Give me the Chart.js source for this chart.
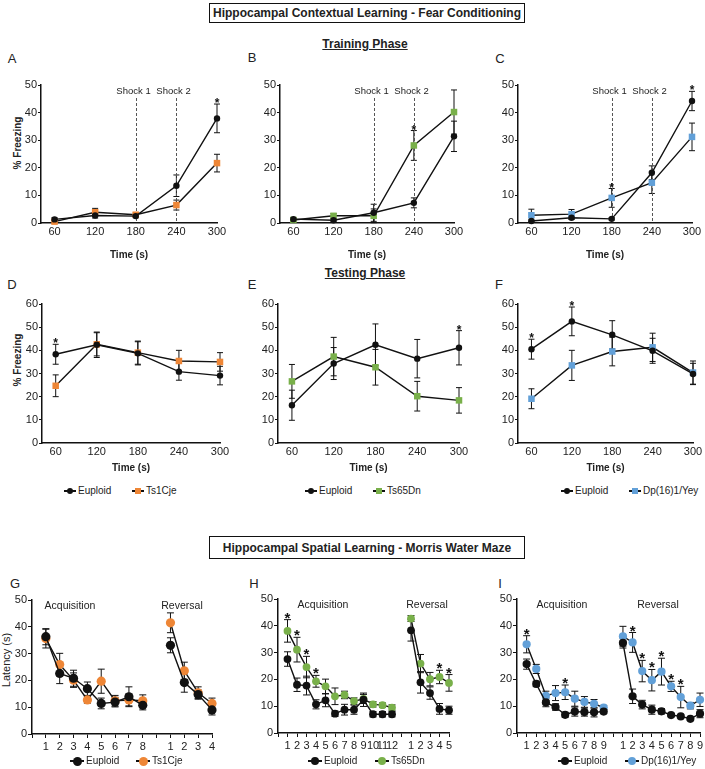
<!DOCTYPE html>
<html>
<head>
<meta charset="utf-8">
<title>Hippocampal learning</title>
<script src="https://cdn.jsdelivr.net/npm/chart.js@4.4.1/dist/chart.umd.min.js"></script>
<style>
  html, body { margin:0; padding:0; background:#fff; overflow:hidden; }
  body { position:relative; width:705px; height:769px; font-family:"Liberation Sans", Arial, sans-serif; color:#222; }
  canvas { position:absolute; }
  .t { position:absolute; transform:translate(-50%,-50%); white-space:nowrap; line-height:1; }
  .box { position:absolute; box-sizing:border-box; border:1.5px solid #111; font-weight:bold; font-size:12px; display:flex; align-items:center; justify-content:center; }
  .head { font-weight:bold; font-size:12px; text-decoration:underline; }
  .letter { font-size:13px; }
  .ytitle { transform:translate(-50%,-50%) rotate(-90deg); }
  .leg { position:absolute; display:flex; align-items:center; font-size:10px; transform:translateY(-50%); white-space:nowrap; line-height:1; }
</style>
</head>
<body>
<script>
// ---- data: fear conditioning ----
const timePoints = [60, 120, 180, 240, 300];
const shockTimes = [180, 240];
const shockNames = ['Shock 1', 'Shock 2'];

// training phase (% freezing)
const trainEuploidA = [1.3, 2.7, 2.5, 13.5, 37.9];
const trainEuploidAErr = [0.6, 0.9, 0.6, 3.9, 5.2];
const trainTs1Cje = [0.5, 3.9, 3.0, 6.5, 21.7];
const trainTs1CjeErr = [0.4, 1.4, 0.6, 1.8, 3.2];

const trainEuploidB = [1.4, 1.0, 3.7, 7.3, 31.4];
const trainEuploidBErr = [0.5, 0.6, 3.1, 1.8, 5.5];
const trainTs65Dn = [1.1, 2.6, 2.6, 28.1, 40.2];
const trainTs65DnErr = [0.5, 0.8, 2.5, 5.4, 8.0];

const trainEuploidC = [0.7, 1.9, 1.5, 18.2, 44.2];
const trainEuploidCErr = [0.4, 0.6, 0.4, 2.5, 3.5];
const trainDp16 = [2.8, 3.2, 9.1, 14.6, 31.2];
const trainDp16Err = [2.2, 1.7, 3.4, 3.9, 5.0];

// testing phase (% freezing)
const testEuploidD = [38.3, 42.4, 38.7, 30.8, 29.1];
const testEuploidDErr = [4.3, 5.5, 5.0, 3.7, 4.0];
const testTs1Cje = [24.7, 42.6, 39.0, 35.4, 35.0];
const testTs1CjeErr = [4.7, 5.0, 5.0, 4.6, 4.0];

const testEuploidE = [16.3, 34.3, 42.4, 36.4, 41.1];
const testEuploidEErr = [6.5, 6.9, 9.0, 8.3, 7.4];
const testTs65Dn = [26.6, 37.3, 32.7, 20.2, 18.4];
const testTs65DnErr = [7.3, 8.3, 7.7, 6.4, 5.5];

const testEuploidF = [40.5, 52.5, 46.7, 39.8, 29.8];
const testEuploidFErr = [4.3, 6.2, 6.1, 5.4, 4.6];
const testDp16 = [19.1, 33.5, 39.5, 41.3, 30.4];
const testDp16Err = [4.3, 6.5, 6.2, 6.1, 5.0];

// significant time points (*)
const sigA = [300], sigB = [240], sigC = [180, 300];
const sigD = [60], sigE = [300], sigF = [60, 120];

// ---- data: Morris water maze, latency (s) ----
const daysG_acq = ['1', '2', '3', '4', '5', '6', '7', '8'];
const daysG_rev = ['1', '2', '3', '4'];
const mwmEuploidG_acq = [36.3, 22.6, 20.8, 16.9, 11.4, 11.9, 13.9, 10.7];
const mwmEuploidG_acqErr = [3.0, 3.8, 3.0, 2.5, 2.0, 1.8, 3.7, 1.7];
const mwmEuploidG_rev = [33.1, 19.2, 14.7, 9.0];
const mwmEuploidG_revErr = [2.8, 3.6, 1.7, 1.9];
const mwmTs1Cje_acq = [35.6, 25.9, 20.1, 12.7, 19.7, 12.4, 12.7, 12.4];
const mwmTs1Cje_acqErr = [3.5, 4.2, 2.7, 1.2, 4.5, 2.0, 2.2, 2.2];
const mwmTs1Cje_rev = [41.5, 23.6, 15.4, 11.4];
const mwmTs1Cje_revErr = [3.7, 3.2, 2.2, 2.0];

const daysH_acq = ['1', '2', '3', '4', '5', '6', '7', '8', '9', '10', '11', '12'];
const daysH_rev = ['1', '2', '3', '4', '5'];
const mwmEuploidH_acq = [27.6, 18.0, 17.7, 10.7, 12.2, 7.2, 8.7, 8.7, 12.4, 7.0, 7.0, 7.0];
const mwmEuploidH_acqErr = [2.7, 2.5, 3.5, 1.7, 2.4, 1.0, 2.0, 1.7, 2.5, 1.0, 1.0, 1.0];
const mwmEuploidH_rev = [38.3, 18.9, 14.9, 9.0, 8.5];
const mwmEuploidH_revErr = [4.0, 4.0, 2.3, 2.0, 1.5];
const mwmTs65Dn_acq = [38.1, 31.1, 24.6, 19.3, 17.4, 13.7, 14.2, 11.9, 12.7, 10.7, 10.4, 9.5];
const mwmTs65Dn_acqErr = [4.2, 4.6, 4.0, 2.2, 2.7, 3.1, 1.4, 1.2, 1.7, 1.0, 0.8, 1.0];
const mwmTs65Dn_rev = [42.7, 25.9, 20.1, 20.9, 18.7];
const mwmTs65Dn_revErr = [1.1, 3.4, 2.5, 2.5, 3.1];

const daysI_acq = ['1', '2', '3', '4', '5', '6', '7', '8', '9'];
const daysI_rev = ['1', '2', '3', '4', '5', '6', '7', '8', '9'];
const mwmEuploidI_acq = [25.7, 18.3, 11.4, 9.7, 6.8, 8.0, 7.8, 7.7, 8.0];
const mwmEuploidI_acqErr = [1.9, 1.0, 1.6, 1.2, 0.9, 1.7, 1.5, 1.7, 0.8];
const mwmEuploidI_rev = [33.6, 13.7, 10.6, 8.7, 8.1, 6.7, 6.2, 5.3, 7.2];
const mwmEuploidI_revErr = [1.9, 2.7, 1.6, 1.7, 1.0, 0.6, 0.5, 0.5, 1.5];
const mwmDp16_acq = [33.1, 23.9, 13.9, 14.9, 15.2, 12.8, 11.6, 10.9, 9.5];
const mwmDp16_acqErr = [3.2, 1.7, 1.7, 2.8, 2.7, 2.8, 2.0, 1.6, 0.8];
const mwmDp16_rev = [36.1, 33.8, 23.1, 19.7, 22.9, 17.4, 13.4, 10.2, 12.4];
const mwmDp16_revErr = [3.7, 3.7, 4.0, 4.0, 5.0, 1.9, 4.0, 1.2, 2.5];

// significant days (*)
const sigG = { acq: [], rev: [] };
const sigH = { acq: [1, 2, 3, 4], rev: [4, 5] };
const sigI = { acq: [1, 5], rev: [2, 3, 4, 5, 6, 7] };

// ---- styles ----
const FONT = '"Liberation Sans", Arial, sans-serif';
const BLACK = '#111111';
const ORANGE = '#EE8636';
const GREEN = '#79B04A';
const BLUE = '#62A0D8';

Chart.defaults.font.family = FONT;
Chart.defaults.color = '#222';

// error bars drawn from dataset.errors through the y scale
const errorBars = {
  id: 'errorBars',
  beforeDatasetsDraw(chart, args, opts) {
    const ctx = chart.ctx, y = chart.scales.y;
    const half = opts.cap || 3;
    ctx.save();
    ctx.strokeStyle = BLACK;
    ctx.lineWidth = 1;
    chart.data.datasets.forEach((ds, di) => {
      if (!ds.errors) return;
      const meta = chart.getDatasetMeta(di);
      meta.data.forEach((pt, i) => {
        const p = ds.data[i];
        const e = ds.errors[i];
        if (!p || p.y == null || e == null) return;
        const top = y.getPixelForValue(p.y + e);
        const bot = y.getPixelForValue(p.y - e);
        ctx.beginPath();
        ctx.moveTo(pt.x, top); ctx.lineTo(pt.x, bot);
        ctx.moveTo(pt.x - half, top); ctx.lineTo(pt.x + half, top);
        ctx.moveTo(pt.x - half, bot); ctx.lineTo(pt.x + half, bot);
        ctx.stroke();
      });
    });
    ctx.restore();
  }
};

// dashed shock markers
const shockLines = {
  id: 'shockLines',
  beforeDatasetsDraw(chart, args, opts) {
    if (!opts.times || !opts.times.length) return;
    const { ctx, chartArea, scales: { x } } = chart;
    ctx.save();
    opts.times.forEach((t, i) => {
      const px = Math.round(x.getPixelForValue(t)) + 0.5;
      ctx.setLineDash([3, 2]);
      ctx.strokeStyle = '#555';
      ctx.lineWidth = 1;
      ctx.beginPath();
      ctx.moveTo(px, chartArea.top + 13);
      ctx.lineTo(px, chartArea.bottom);
      ctx.stroke();
      ctx.setLineDash([]);
      ctx.fillStyle = '#222';
      ctx.font = '9.5px ' + FONT;
      ctx.textAlign = 'center';
      ctx.textBaseline = 'middle';
      ctx.fillText(opts.labels[i], px - 3, chartArea.top + 6);
    });
    ctx.restore();
  }
};

// significance asterisks above the highest error bar
const sigStars = {
  id: 'sigStars',
  afterDatasetsDraw(chart, args, opts) {
    if (!opts.xs || !opts.xs.length) return;
    const { ctx, scales: { x, y } } = chart;
    ctx.save();
    ctx.fillStyle = '#111';
    ctx.font = 'bold ' + (opts.size || 13) + 'px ' + FONT;
    ctx.textAlign = 'center';
    ctx.textBaseline = 'alphabetic';
    opts.xs.forEach(xv => {
      let top = -Infinity;
      chart.data.datasets.forEach(ds => {
        ds.data.forEach((p, i) => {
          if (p.x === xv && p.y != null) top = Math.max(top, p.y + (ds.errors[i] || 0));
        });
      });
      ctx.fillText('*', x.getPixelForValue(xv), y.getPixelForValue(top) + 3);
    });
    ctx.restore();
  }
};

Chart.register(errorBars, shockLines, sigStars);

function timeSeries(vals) { return timePoints.map((t, i) => ({ x: t, y: vals[i] })); }
function mazeSeries(acq, rev) {
  const pts = acq.map((v, i) => ({ x: i + 1, y: v }));
  pts.push({ x: acq.length + 1, y: null });
  rev.forEach((v, i) => pts.push({ x: acq.length + 2 + i, y: v }));
  return pts;
}
function mazeErr(acq, rev) { return [...acq, null, ...rev]; }

function dataset(label, data, errors, color, shape, r) {
  return {
    label, data, errors,
    borderColor: BLACK, borderWidth: 1.4, tension: 0, fill: false, clip: false,
    pointStyle: shape, pointRadius: r, pointHoverRadius: r,
    pointBackgroundColor: color, pointBorderColor: color, pointBorderWidth: 0
  };
}

function makePanel(p) {
  const yw = 30, padT = 12, padR = 12;
  const W = p.r - p.l + yw + padR;
  const H = p.b - p.t + padT + p.xh;
  const c = document.createElement('canvas');
  c.width = W; c.height = H;
  c.style.left = (p.l - yw) + 'px';
  c.style.top = (p.t - padT) + 'px';
  c.style.width = W + 'px'; c.style.height = H + 'px';
  document.body.appendChild(c);
  return new Chart(c, {
    type: 'line',
    data: { datasets: p.datasets },
    options: {
      responsive: false, animation: false, devicePixelRatio: 1,
      events: [],
      layout: { padding: { top: padT, right: padR, left: 0, bottom: 0 } },
      plugins: {
        legend: { display: false },
        tooltip: { enabled: false },
        errorBars: { cap: p.cap },
        shockLines: { times: p.shocks || [], labels: shockNames },
        sigStars: { xs: p.sig || [], size: p.starSize }
      },
      scales: {
        x: {
          type: 'linear', min: p.xMin, max: p.xMax,
          afterBuildTicks: s => { s.ticks = p.xTicks.map(v => ({ value: v })); },
          afterFit: s => { s.height = p.xh; },
          ticks: { callback: p.xLabel, autoSkip: false, maxRotation: 0, font: { size: 11 }, padding: 2 },
          grid: p.xTickMarks
            ? { display: true, drawOnChartArea: false, drawTicks: true, tickLength: 4, color: BLACK }
            : { display: false, drawTicks: false },
          border: { display: true, color: BLACK, width: 1.5 },
          title: p.xTitle
            ? { display: true, text: p.xTitle, font: { size: 10, weight: 'bold' }, padding: { top: 0, bottom: p.xTitlePad } }
            : { display: false }
        },
        y: {
          min: 0, max: p.yMax,
          afterFit: s => { s.width = yw; },
          ticks: { stepSize: p.yStep, font: { size: 11 }, padding: 1 },
          grid: { display: true, drawOnChartArea: false, drawTicks: true, tickLength: p.yTick || 3, color: BLACK },
          border: { display: true, color: BLACK, width: 1.5 }
        }
      }
    }
  });
}

function addText(cls, txt, x, y) {
  const d = document.createElement('div');
  d.className = 't ' + cls;
  d.textContent = txt;
  d.style.left = x + 'px';
  d.style.top = y + 'px';
  document.body.appendChild(d);
  return d;
}

function addBox(txt, l, t, w, h) {
  const d = document.createElement('div');
  d.className = 'box';
  d.textContent = txt;
  Object.assign(d.style, { left: l + 'px', top: t + 'px', width: w + 'px', height: h + 'px' });
  document.body.appendChild(d);
}

function legendItem(cx, cy, name, color, shape, size, lineW) {
  const d = document.createElement('div');
  d.className = 'leg';
  d.style.left = (cx - lineW / 2) + 'px';
  d.style.top = cy + 'px';
  const m = document.createElement('span');
  m.style.cssText = `position:relative;display:inline-block;width:${lineW}px;height:${size}px;margin-right:2px;`;
  const ln = document.createElement('span');
  ln.style.cssText = `position:absolute;left:0;right:0;top:${size / 2 - 0.75}px;height:1.5px;background:${BLACK};`;
  const mk = document.createElement('span');
  mk.style.cssText = `position:absolute;left:${(lineW - size) / 2}px;top:0;width:${size}px;height:${size}px;background:${color};border-radius:${shape === 'circle' ? '50%' : '0'};`;
  m.append(ln, mk);
  d.append(m, document.createTextNode(name));
  document.body.appendChild(d);
}

// ---- headings ----
addBox('Hippocampal Contextual Learning - Fear Conditioning', 209, 3, 316, 20);
addText('head', 'Training Phase', 365, 44);
addText('head', 'Testing Phase', 365, 273);
addBox('Hippocampal Spatial Learning - Morris Water Maze', 209, 536, 316, 23);

[['A', 12, 58], ['B', 252, 57], ['C', 500, 58], ['D', 12, 284], ['E', 252, 284], ['F', 499, 284],
 ['G', 15, 583], ['H', 254, 583], ['I', 500, 583]].forEach(([s, x, y]) => addText('letter', s, x, y));

addText('ytitle', '% Freezing', 18, 143).style.cssText += 'font-weight:bold;font-size:10px;';
addText('ytitle', '% Freezing', 18, 360).style.cssText += 'font-weight:bold;font-size:10px;';
addText('ytitle', 'Latency (s)', 6, 660).style.cssText += 'font-size:11px;';

// ---- fear conditioning panels ----
const fcCommon = { xMin: 40, xMax: 300, xTicks: timePoints, xLabel: v => String(v), xTitle: 'Time (s)', cap: 3, starSize: 12 };

const trainRow = { t: 85, b: 223, yMax: 50, yStep: 5, xh: 40, xTitlePad: 2, shocks: shockTimes };
makePanel({ ...fcCommon, ...trainRow, l: 41, r: 217, sig: sigA, datasets: [
  dataset('Euploid', timeSeries(trainEuploidA), trainEuploidAErr, BLACK, 'circle', 3.2),
  dataset('Ts1Cje', timeSeries(trainTs1Cje), trainTs1CjeErr, ORANGE, 'rect', 4.6)] });
makePanel({ ...fcCommon, ...trainRow, l: 280, r: 454, sig: sigB, datasets: [
  dataset('Euploid', timeSeries(trainEuploidB), trainEuploidBErr, BLACK, 'circle', 3.2),
  dataset('Ts65Dn', timeSeries(trainTs65Dn), trainTs65DnErr, GREEN, 'rect', 4.6)] });
makePanel({ ...fcCommon, ...trainRow, l: 518, r: 692, sig: sigC, datasets: [
  dataset('Euploid', timeSeries(trainEuploidC), trainEuploidCErr, BLACK, 'circle', 3.2),
  dataset('Dp(16)1/Yey', timeSeries(trainDp16), trainDp16Err, BLUE, 'rect', 4.6)] });

const testRow = { t: 304, b: 443, yMax: 60, yStep: 5, xh: 32, xTitlePad: 1 };
makePanel({ ...fcCommon, ...testRow, l: 42, r: 220, sig: sigD, datasets: [
  dataset('Euploid', timeSeries(testEuploidD), testEuploidDErr, BLACK, 'circle', 3.2),
  dataset('Ts1Cje', timeSeries(testTs1Cje), testTs1CjeErr, ORANGE, 'rect', 4.6)] });
makePanel({ ...fcCommon, ...testRow, l: 278, r: 459, sig: sigE, datasets: [
  dataset('Euploid', timeSeries(testEuploidE), testEuploidEErr, BLACK, 'circle', 3.2),
  dataset('Ts65Dn', timeSeries(testTs65Dn), testTs65DnErr, GREEN, 'rect', 4.6)] });
makePanel({ ...fcCommon, ...testRow, l: 518, r: 693, sig: sigF, datasets: [
  dataset('Euploid', timeSeries(testEuploidF), testEuploidFErr, BLACK, 'circle', 3.2),
  dataset('Dp(16)1/Yey', timeSeries(testDp16), testDp16Err, BLUE, 'rect', 4.6)] });

legendItem(70, 491, 'Euploid', BLACK, 'circle', 6, 12);
legendItem(138, 491, 'Ts1Cje', ORANGE, 'rect', 6, 12);
legendItem(311, 491, 'Euploid', BLACK, 'circle', 6, 12);
legendItem(379, 491, 'Ts65Dn', GREEN, 'rect', 6, 12);
legendItem(567, 491, 'Euploid', BLACK, 'circle', 6, 12);
legendItem(635, 491, 'Dp(16)1/Yey', BLUE, 'rect', 6, 12);

// ---- water maze panels ----
function mazePanel(p, acqDays, revDays, sig) {
  const n = acqDays.length;
  const labels = ['', ...acqDays, '', ...revDays];
  const xTicks = labels.map((_, i) => i);
  const xs = [...sig.acq, ...sig.rev.map(d => n + 1 + d)];
  return makePanel({ ...p, xMin: 0, xMax: labels.length - 1, xTicks, xLabel: v => labels[v] || '',
    yMax: 50, yStep: 10, yTick: 4, xh: 22, xTickMarks: true, cap: 3.5, starSize: 15, sig: xs });
}

mazePanel({ l: 32, r: 212, t: 600, b: 734, datasets: [
  dataset('Euploid', mazeSeries(mwmEuploidG_acq, mwmEuploidG_rev), mazeErr(mwmEuploidG_acqErr, mwmEuploidG_revErr), BLACK, 'circle', 4.6),
  dataset('Ts1Cje', mazeSeries(mwmTs1Cje_acq, mwmTs1Cje_rev), mazeErr(mwmTs1Cje_acqErr, mwmTs1Cje_revErr), ORANGE, 'circle', 4.6)] },
  daysG_acq, daysG_rev, sigG);
mazePanel({ l: 278, r: 449, t: 599, b: 733, datasets: [
  dataset('Euploid', mazeSeries(mwmEuploidH_acq, mwmEuploidH_rev), mazeErr(mwmEuploidH_acqErr, mwmEuploidH_revErr), BLACK, 'circle', 3.9),
  dataset('Ts65Dn', mazeSeries(mwmTs65Dn_acq, mwmTs65Dn_rev), mazeErr(mwmTs65Dn_acqErr, mwmTs65Dn_revErr), GREEN, 'circle', 3.9)] },
  daysH_acq, daysH_rev, sigH);
mazePanel({ l: 517, r: 700, t: 599, b: 733, datasets: [
  dataset('Euploid', mazeSeries(mwmEuploidI_acq, mwmEuploidI_rev), mazeErr(mwmEuploidI_acqErr, mwmEuploidI_revErr), BLACK, 'circle', 4.1),
  dataset('Dp(16)1/Yey', mazeSeries(mwmDp16_acq, mwmDp16_rev), mazeErr(mwmDp16_acqErr, mwmDp16_revErr), BLUE, 'circle', 4.1)] },
  daysI_acq, daysI_rev, sigI);

[['Acquisition', 70, 605], ['Reversal', 182, 605], ['Acquisition', 323, 604], ['Reversal', 427, 604],
 ['Acquisition', 562, 604], ['Reversal', 658, 604]].forEach(([s, x, y]) => addText('', s, x, y).style.fontSize = '10.5px');

legendItem(77, 761, 'Euploid', BLACK, 'circle', 9, 14);
legendItem(143, 761, 'Ts1Cje', ORANGE, 'circle', 9, 14);
legendItem(315, 761, 'Euploid', BLACK, 'circle', 8, 14);
legendItem(382, 761, 'Ts65Dn', GREEN, 'circle', 8, 14);
legendItem(565, 761, 'Euploid', BLACK, 'circle', 8, 14);
legendItem(632, 761, 'Dp(16)1/Yey', BLUE, 'circle', 8, 14);
</script>
</body>
</html>
